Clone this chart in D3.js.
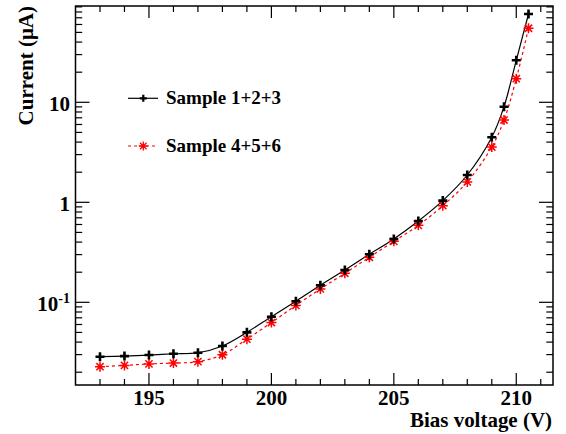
<!DOCTYPE html>
<html>
<head>
<meta charset="utf-8">
<script src="https://cdn.jsdelivr.net/npm/d3@7"></script>
<style>
  html, body { margin: 0; padding: 0; background: #fff; }
  svg { display: block; }
  text { font-family: "Liberation Serif", "Times New Roman", serif; font-weight: bold; fill: #000; }
</style>
</head>
<body>
<svg id="chart" width="566" height="434"></svg>
<script>
// Bias voltage points (V)
const voltages = [193, 194, 195, 196, 197, 198, 199, 200, 201, 202, 203, 204, 205, 206, 207, 208, 209, 209.5, 210, 210.5];
// Leakage current (µA)
const currentA = [0.0286, 0.0290, 0.0297, 0.0306, 0.0313, 0.0366, 0.0501, 0.0718, 0.1025, 0.148, 0.210, 0.302, 0.43, 0.65, 1.04, 1.875, 4.47, 9.04, 26.3, 76.4];
const currentB = [0.0227, 0.0234, 0.0242, 0.0247, 0.0255, 0.0299, 0.0428, 0.0628, 0.093, 0.136, 0.195, 0.282, 0.407, 0.588, 0.925, 1.6, 3.57, 6.65, 17.2, 55];
const seriesNames = ["Sample 1+2+3", "Sample 4+5+6"];
const xTickLabels = [195, 200, 205, 210];
const yTickLabels = [0.1, 1, 10];

const svg = d3.select("#chart");
const frame = { left: 75.5, right: 553, top: 6, bottom: 385 };

const x = d3.scaleLinear().domain([192, 211.5]).range([frame.left, frame.right]);
const y = d3.scaleLog().domain([0.0149, 91.8]).range([frame.bottom, frame.top]);

// ---- ticks (mirrored on all four sides) ----
const ticks = svg.append("g").attr("stroke", "#000").attr("stroke-width", 1.2);
const xMinor = d3.range(193, 212, 1);
xMinor.forEach(v => {
  const major = v % 5 === 0;
  const len = major ? 12 : 6;
  const px = x(v);
  ticks.append("line").attr("x1", px).attr("x2", px).attr("y1", frame.bottom).attr("y2", frame.bottom - len);
  ticks.append("line").attr("x1", px).attr("x2", px).attr("y1", frame.top).attr("y2", frame.top + len);
});
const yTicks = [];
[0.01, 0.1, 1, 10].forEach(dec => {
  for (let k = 1; k <= 9; k++) yTicks.push({ v: dec * k, major: k === 1 });
});
yTicks.filter(t => t.v >= y.domain()[0] && t.v <= y.domain()[1]).forEach(t => {
  const len = t.major ? 14 : 6.7;
  const py = y(t.v);
  ticks.append("line").attr("x1", frame.left).attr("x2", frame.left + len).attr("y1", py).attr("y2", py);
  ticks.append("line").attr("x1", frame.right).attr("x2", frame.right - len).attr("y1", py).attr("y2", py);
});

// ---- frame ----
svg.append("rect")
  .attr("x", frame.left).attr("y", frame.top)
  .attr("width", frame.right - frame.left).attr("height", frame.bottom - frame.top)
  .attr("fill", "none").attr("stroke", "#000").attr("stroke-width", 1.5);

// ---- tick labels ----
svg.append("g").selectAll("text").data(xTickLabels).join("text")
  .attr("x", d => x(d)).attr("y", 404.5)
  .attr("text-anchor", "middle").attr("font-size", 21)
  .text(d => d);

const yl = svg.append("g");
yTickLabels.forEach(v => {
  const t = yl.append("text").attr("x", 70).attr("y", y(v) + 8.8)
    .attr("text-anchor", "end").attr("font-size", 21);
  if (v === 0.1) {
    t.append("tspan").text("10");
    t.append("tspan").attr("font-size", 14).attr("dy", -8).text("-1");
  } else {
    t.text(v);
  }
});

// ---- axis titles ----
svg.append("text")
  .attr("x", 410).attr("y", 427)
  .attr("font-size", 21)
  .attr("textLength", 142).attr("lengthAdjust", "spacingAndGlyphs")
  .text("Bias voltage (V)");
svg.append("text")
  .attr("transform", "translate(33,6) rotate(-90)")
  .attr("text-anchor", "end").attr("font-size", 21)
  .text("Current (\u03BCA)");

// ---- curves ----
const line = d3.line()
  .x(d => x(d[0])).y(d => y(d[1]))
  .curve(d3.curveCatmullRom.alpha(0.5));
const dataA = voltages.map((v, i) => [v, currentA[i]]);
const dataB = voltages.map((v, i) => [v, currentB[i]]);

svg.append("path").datum(dataB).attr("d", line)
  .attr("fill", "none").attr("stroke", "#ff0000").attr("stroke-width", 1.2)
  .attr("stroke-dasharray", "3,3");
svg.append("path").datum(dataA).attr("d", line)
  .attr("fill", "none").attr("stroke", "#000").attr("stroke-width", 1.2);

// ---- markers ----
function plusPath(cx, cy, r) {
  return `M${cx - r},${cy}H${cx + r}M${cx},${cy - r}V${cy + r}`;
}
function starPath(cx, cy, r) {
  const d = r * 0.72;
  return `M${cx - r},${cy}H${cx + r}M${cx},${cy - r}V${cy + r}` +
    `M${cx - d},${cy - d}L${cx + d},${cy + d}M${cx - d},${cy + d}L${cx + d},${cy - d}`;
}
svg.append("g").selectAll("path").data(dataB).join("path")
  .attr("d", d => starPath(x(d[0]), y(d[1]), 5))
  .attr("fill", "none").attr("stroke", "#ff0000").attr("stroke-width", 1.5);
svg.append("g").selectAll("path").data(dataA).join("path")
  .attr("d", d => plusPath(x(d[0]), y(d[1]), 4.5))
  .attr("fill", "none").attr("stroke", "#000").attr("stroke-width", 2.6);

// ---- legend ----
const legend = svg.append("g");
const rows = [
  { name: seriesNames[0], y: 98.3, color: "#000", dash: null, marker: plusPath, r: 3.5, sw: 2.2 },
  { name: seriesNames[1], y: 146, color: "#ff0000", dash: "3,3", marker: starPath, r: 4.5, sw: 1.3 }
];
rows.forEach(r => {
  legend.append("line").attr("x1", 128).attr("x2", 158).attr("y1", r.y).attr("y2", r.y)
    .attr("stroke", r.color).attr("stroke-width", 1.2)
    .attr("stroke-dasharray", r.dash);
  legend.append("path").attr("d", r.marker(143.3, r.y, r.r))
    .attr("fill", "none").attr("stroke", r.color).attr("stroke-width", r.sw);
  legend.append("text").attr("x", 166).attr("y", r.y + 6)
    .attr("font-size", 19).text(r.name);
});
</script>
</body>
</html>
